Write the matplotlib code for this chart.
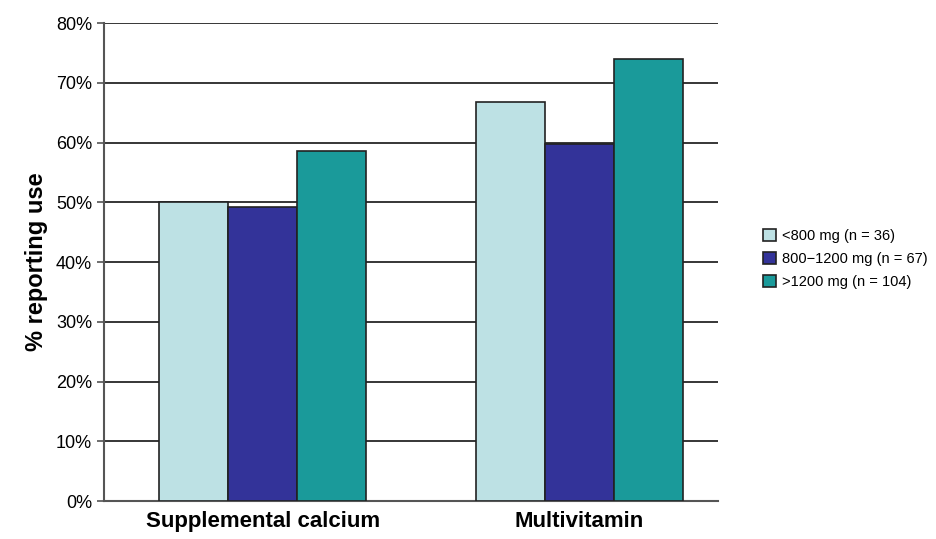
import numpy as np
import matplotlib
matplotlib.use("Agg")
import matplotlib.pyplot as plt
from matplotlib.ticker import PercentFormatter

plt.rcParams['font.family'] = ['Liberation Sans', 'DejaVu Sans']

categories = ['Supplemental calcium', 'Multivitamin']
series_labels = ['<800 mg (n = 36)', '800\u22121200 mg (n = 67)', '>1200 mg (n = 104)']
values = [
    [50.0, 66.8],   # <800 mg
    [49.3, 59.7],   # 800-1200 mg
    [58.6, 74.0],   # >1200 mg
]
colors = ['#BDE1E4', '#333399', '#1A9A9A']

fig = plt.figure(figsize=(9.37, 5.39), dpi=100)
ax = fig.add_axes([0.111, 0.0705, 0.655, 0.8865])

x = np.arange(len(categories))
w = 0.218
for i, (vals, lab, col) in enumerate(zip(values, series_labels, colors)):
    ax.bar(x + (i - 1) * w, vals, w, color=col, edgecolor='#222222',
           linewidth=1.2, label=lab, zorder=3)

ax.set_ylim(0, 80)
ax.set_xlim(-0.502, 1.438)
ax.set_yticks(np.arange(0, 81, 10))
ax.yaxis.set_major_formatter(PercentFormatter(decimals=0))
ax.grid(axis='y', color='black', linewidth=1.1, zorder=0)
ax.set_xticks(x)
ax.set_xticklabels(categories, fontsize=16, fontweight='bold')
ax.tick_params(axis='x', length=0, pad=7)
ax.tick_params(axis='y', labelsize=13, length=5, width=1.2, color='#555555')
ax.set_ylabel('% reporting use', fontsize=17, fontweight='bold', labelpad=6)

for s in ['top', 'right']:
    ax.spines[s].set_visible(False)
for s in ['left', 'bottom']:
    ax.spines[s].set_color('#555555')
    ax.spines[s].set_linewidth(1.5)

leg = fig.legend(loc='center left', bbox_to_anchor=(0.8, 0.52), frameon=False,
                 fontsize=10.5, handlelength=0.9, handleheight=0.9,
                 handletextpad=0.4, labelspacing=0.6)

fig.savefig('out.png', dpi=100)
